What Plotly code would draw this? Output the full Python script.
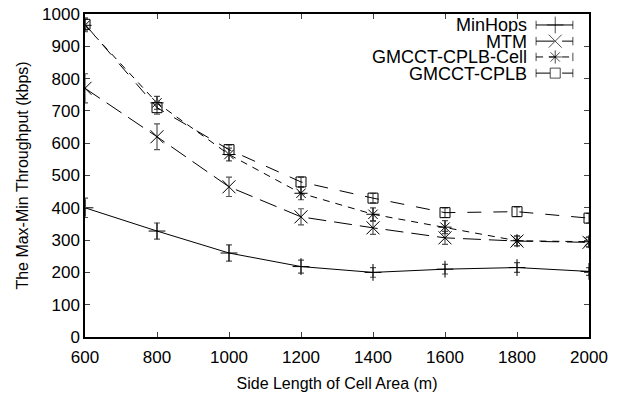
import plotly.graph_objects as go

side = [600, 800, 1000, 1200, 1400, 1600, 1800, 2000]
minhops = [400, 328, 260, 218, 200, 210, 215, 203]
minhops_err = [30, 25, 25, 20, 15, 15, 15, 12]
mtm = [770, 620, 465, 372, 338, 307, 297, 293]
mtm_err = [45, 40, 30, 25, 20, 20, 15, 15]
cell = [965, 725, 565, 445, 380, 340, 298, 295]
cell_err = [20, 20, 20, 20, 20, 20, 15, 15]
cplb = [968, 710, 580, 480, 430, 385, 388, 368]
cplb_err = [20, 20, 15, 15, 15, 15, 15, 15]

names = ["MinHops", "MTM", "GMCCT-CPLB-Cell", "GMCCT-CPLB"]
series = [minhops, mtm, cell, cplb]
errs = [minhops_err, mtm_err, cell_err, cplb_err]
symbols = ["cross-thin-open", "x-thin-open", "asterisk-open", "square-open"]
dashes = ["solid", "18px,8px", "7px,6px", "14px,12px"]
msizes = [12, 13, 11, 10]

fig = go.Figure()
for nm, ys, er, sym, ds, ms in zip(names, series, errs, symbols, dashes, msizes):
    fig.add_trace(go.Scatter(
        x=side, y=ys, mode="lines+markers", name=nm, showlegend=False,
        line=dict(color="black", width=1, dash=ds),
        marker=dict(symbol=sym, size=ms, color="black", line=dict(color="black", width=1)),
        error_y=dict(type="data", array=er, visible=True, color="#555555", thickness=1.2, width=3),
    ))

FAM = "Liberation Sans, Arial, sans-serif"

# manual gnuplot-style legend on an overlay axis
leg_y = [0.966, 0.916, 0.867, 0.817]
for i, (nm, sym, ds, ms) in enumerate(zip(names, symbols, dashes, msizes)):
    y = leg_y[i]
    fig.add_trace(go.Scatter(
        x=[0.895, 0.933, 0.968], y=[y, y, y], xaxis="x2", yaxis="y2",
        mode="lines+markers", showlegend=False, hoverinfo="skip",
        line=dict(color="black", width=1, dash=ds),
        marker=dict(symbol=["line-ns-open", sym, "line-ns-open"], size=[6, ms, 6],
                    color="black", line=dict(color="black", width=1)),
    ))
    fig.add_annotation(x=0.879, y=y, xref="x2", yref="y2", text=nm, showarrow=False,
                       xanchor="right", yanchor="middle", height=15, borderpad=0,
                       font=dict(family=FAM, size=18, color="black"))

font = dict(family=FAM, size=17, color="black")
fig.update_layout(
    width=624, height=395,
    margin=dict(l=85, r=35, t=14, b=58),
    paper_bgcolor="white", plot_bgcolor="white",
    font=font,
    xaxis=dict(range=[600, 2000], tickvals=[600, 800, 1000, 1200, 1400, 1600, 1800, 2000],
               ticks="inside", ticklen=5, mirror="allticks", showline=True, linecolor="black",
               linewidth=1.5, showgrid=False, zeroline=False, automargin=False,
               tickfont=dict(size=17), ticklabelstandoff=4,
               title=dict(text="Side Length of Cell Area (m)", font=dict(size=16), standoff=12)),
    yaxis=dict(range=[0, 1000], dtick=100, ticks="inside", ticklen=5, mirror="allticks",
               showline=True, linecolor="black", linewidth=1.5, showgrid=False, zeroline=False,
               automargin=False, tickfont=dict(size=17),
               title=dict(text="The Max-Min Throughput (kbps)", font=dict(size=16), standoff=9)),
    xaxis2=dict(overlaying="x", range=[0, 1], visible=False, fixedrange=True),
    yaxis2=dict(overlaying="y", range=[0, 1], visible=False, fixedrange=True),
)

fig.write_html("out.html", config={"displayModeBar": False},
               post_script="document.body.style.margin='0px';")
